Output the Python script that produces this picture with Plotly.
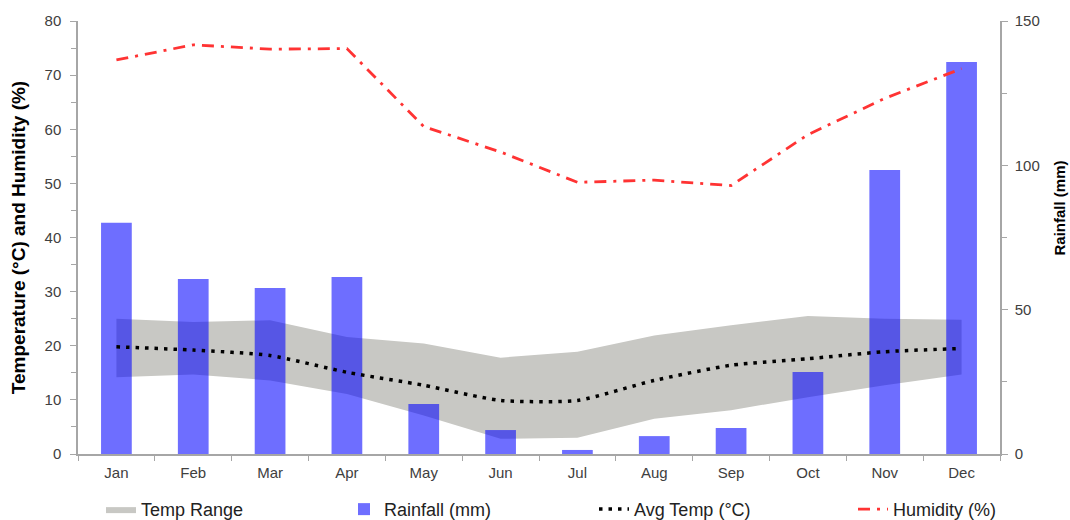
import plotly.graph_objects as go

months = ["Jan", "Feb", "Mar", "Apr", "May", "Jun", "Jul", "Aug", "Sep", "Oct", "Nov", "Dec"]
temp_high = [25.0, 24.4, 24.7, 21.6, 20.4, 17.8, 18.9, 21.9, 23.8, 25.5, 25.0, 24.8]
temp_low = [14.2, 14.7, 13.6, 11.1, 7.1, 2.8, 3.0, 6.5, 8.1, 10.5, 12.7, 14.7]
avg_temp = [19.8, 19.2, 18.2, 15.1, 12.7, 9.9, 9.9, 13.6, 16.4, 17.6, 18.9, 19.5]
humidity = [72.8, 75.6, 74.8, 74.9, 60.5, 55.8, 50.2, 50.6, 49.6, 59.0, 65.7, 71.2]
rainfall = [80.1, 60.6, 57.5, 61.3, 17.3, 8.3, 1.4, 6.2, 9.0, 28.4, 98.4, 135.8]

FONT = "Liberation Sans, Arial, sans-serif"
AXIS_COL = "#a6a6a6"
TICK_COL = "#404040"
BAND_COL = "rgb(200,200,196)"

fig = go.Figure()

# Temp range band (primary y)
fig.add_trace(go.Scatter(x=months, y=temp_low, mode="lines", line=dict(width=0, color=BAND_COL),
                         showlegend=False, hoverinfo="skip", yaxis="y"))
fig.add_trace(go.Scatter(x=months, y=temp_high, mode="lines", line=dict(width=0, color=BAND_COL),
                         fill="tonexty", fillcolor=BAND_COL, name="Temp Range", yaxis="y",
                         legend="legend"))

# Rainfall bars (secondary y)
fig.add_trace(go.Bar(x=months, y=rainfall, name="Rainfall (mm)", width=0.4,
                     marker=dict(color="rgba(0,0,255,0.57)", line=dict(width=0)),
                     yaxis="y2", legend="legend2"))

# Lines on a third overlay axis so they draw above the bars
fig.add_trace(go.Scatter(x=months, y=avg_temp, mode="lines", name="Avg Temp (°C)",
                         line=dict(color="black", width=3.5, dash="3.5px,6px", shape="spline", smoothing=0.6),
                         yaxis="y3", legend="legend3"))
fig.add_trace(go.Scatter(x=months, y=humidity, mode="lines", name="Humidity (%)",
                         line=dict(color="#ff3333", width=2.8, dash="12px,7px,3px,7px"),
                         yaxis="y3", legend="legend4"))

W, H = 1070, 520
ML, MR, MT, MB = 78, 70, 21, 66
PLOT_W = W - ML - MR
LEG_Y = -0.128


def leg(xpx):
    return dict(orientation="h", x=(xpx - ML) / PLOT_W, xanchor="left", y=LEG_Y, yanchor="middle",
                font=dict(size=18, family=FONT, color="#222222"), bgcolor="rgba(0,0,0,0)")


fig.update_layout(
    width=W, height=H,
    margin=dict(l=ML, r=MR, t=MT, b=MB, autoexpand=False),
    paper_bgcolor="white", plot_bgcolor="white",
    font=dict(family=FONT, size=15, color=TICK_COL),
    xaxis=dict(
        type="category", range=[-0.5, 11.5], showgrid=False,
        showline=True, linecolor=AXIS_COL, linewidth=1.5,
        ticks="outside", tickson="boundaries", ticklen=5, tickcolor=AXIS_COL,
        tickfont=dict(size=15, color=TICK_COL), ticklabelstandoff=4,
    ),
    yaxis=dict(
        range=[0, 80], dtick=10, showgrid=False, zeroline=False,
        showline=True, linecolor=AXIS_COL, linewidth=1.5,
        ticks="outside", ticklen=6, tickcolor=AXIS_COL,
        minor=dict(dtick=5, ticks="outside", ticklen=5, tickcolor=AXIS_COL),
        tickfont=dict(size=15, color=TICK_COL), ticklabelstandoff=6,
        title=dict(text="<b>Temperature (°C) and Humidity (%)</b>",
                   font=dict(size=19, color="black", family=FONT), standoff=14),
    ),
    yaxis2=dict(
        range=[0, 150], dtick=50, overlaying="y", side="right", showgrid=False, zeroline=False,
        showline=True, linecolor=AXIS_COL, linewidth=1.5,
        ticks="outside", ticklen=6, tickcolor=AXIS_COL,
        minor=dict(dtick=25, ticks="outside", ticklen=5, tickcolor=AXIS_COL),
        tickfont=dict(size=15, color=TICK_COL), ticklabelstandoff=4,
    ),
    yaxis3=dict(range=[0, 80], overlaying="y", visible=False),
    annotations=[dict(
        text="<b>Rainfall (mm)</b>", textangle=-90, xref="paper", yref="paper",
        x=(1059 - ML) / PLOT_W, y=0.567, xanchor="center", yanchor="middle", showarrow=False,
        font=dict(size=15, color="black", family=FONT),
    )],
    legend=leg(101),
    legend2=leg(344),
    legend3=leg(594),
    legend4=leg(853),
    showlegend=True,
)

fig.write_html(
    "out.html",
    config={"displayModeBar": False},
    post_script="document.body.style.margin='0';document.body.style.overflow='hidden';",
)
